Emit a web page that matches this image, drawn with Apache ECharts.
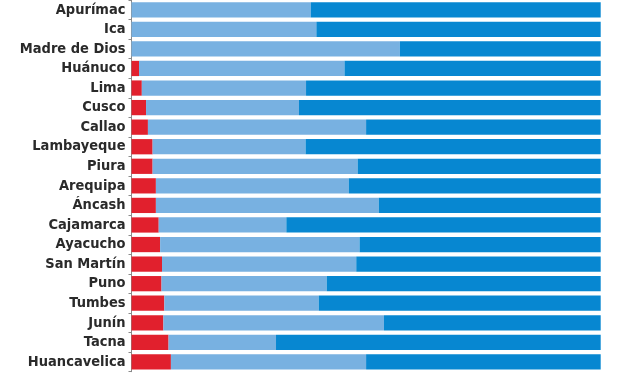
<!DOCTYPE html>
<html>
<head>
<meta charset="utf-8">
<script src="https://cdn.jsdelivr.net/npm/echarts@6/dist/echarts.min.js"></script>
<style>
html,body{margin:0;padding:0;background:#fff;}
#chart{width:640px;height:374px;}
</style>
</head>
<body>
<div id="chart"></div>
<script>
const categories = ["Apurímac","Ica","Madre de Dios","Huánuco","Lima","Cusco","Callao","Lambayeque","Piura","Arequipa","Áncash","Cajamarca","Ayacucho","San Martín","Puno","Tumbes","Junín","Tacna","Huancavelica"];
const redValues   = [0, 0, 0, 1.6, 2.2, 3.1, 3.5, 4.5, 4.5, 5.2, 5.2, 5.8, 6.1, 6.5, 6.4, 7.0, 6.8, 7.9, 8.4];
const lightValues = [38.2, 39.4, 57.2, 43.8, 35.0, 32.6, 46.5, 32.6, 43.7, 41.1, 47.5, 27.2, 42.5, 41.4, 35.2, 32.9, 47.0, 22.9, 41.6];
const darkValues  = [61.8, 60.6, 42.8, 54.6, 62.8, 64.3, 50.0, 62.9, 51.8, 53.7, 47.3, 67.0, 51.4, 52.1, 58.4, 60.1, 46.2, 69.2, 50.0];

const chart = echarts.init(document.getElementById('chart'), null, {renderer:'canvas'});
const gap = '22%';
chart.setOption({
  animation: false,
  grid: {left: 131.5, right: 39.3, top: -3, bottom: 2.3, containLabel: false},
  xAxis: {type: 'value', min: 0, max: 100, show: false},
  yAxis: {
    type: 'category', data: categories, inverse: true,
    axisLine: {show: true, lineStyle: {color: '#8a8a8a', width: 1}},
    axisTick: {show: true, length: 3, lineStyle: {color: '#8a8a8a'}},
    axisLabel: {interval: 0, color: '#2a2a2a', fontFamily: 'DejaVu Sans Condensed', fontSize: 14.5, fontWeight: 'bold', margin: 6}
  },
  series: [
    {type: 'bar', stack: 't', data: redValues, barCategoryGap: gap, itemStyle: {color: '#e1202d'}},
    {type: 'bar', stack: 't', data: lightValues, barCategoryGap: gap, itemStyle: {color: '#78b1e1'}},
    {type: 'bar', stack: 't', data: darkValues, barCategoryGap: gap, itemStyle: {color: '#0787d1'}}
  ]
});
</script>
</body>
</html>
